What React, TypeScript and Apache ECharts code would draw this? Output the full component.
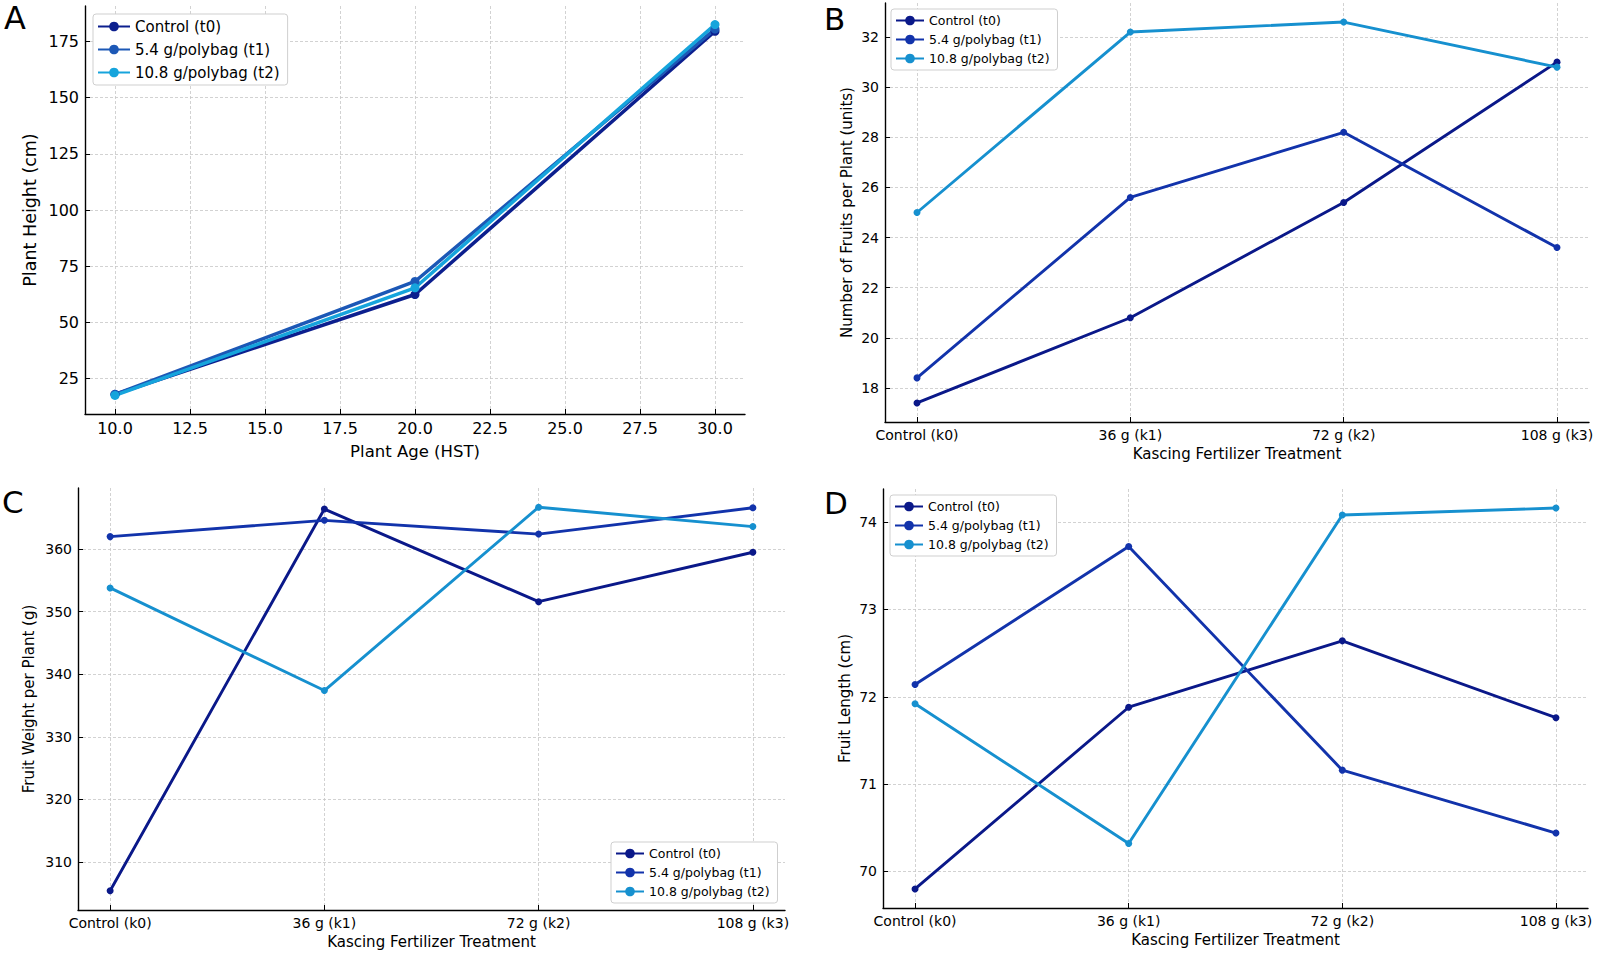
import { useEffect, useRef } from 'react'
import * as echarts from 'echarts'

// ---------- shared ----------
const SERIES_NAMES = ['Control (t0)', '5.4 g/polybag (t1)', '10.8 g/polybag (t2)']
const TREATMENTS = ['Control (k0)', '36 g (k1)', '72 g (k2)', '108 g (k3)']
const TREATMENT_POS = [0, 1, 2, 3]

// ---------- A · plant height ----------
const AGE = [10, 20, 30]
const HEIGHT_T0 = [18, 62.4, 179.5]
const HEIGHT_T1 = [18, 68.2, 180.5]
const HEIGHT_T2 = [17.5, 65.4, 182.5]
const AGE_TICKS = [10, 12.5, 15, 17.5, 20, 22.5, 25, 27.5, 30]
const HEIGHT_TICKS = [25, 50, 75, 100, 125, 150, 175]

// ---------- B · fruits per plant ----------
const FRUITS_T0 = [17.4, 20.8, 25.4, 31.0]
const FRUITS_T1 = [18.4, 25.6, 28.2, 23.6]
const FRUITS_T2 = [25.0, 32.2, 32.6, 30.8]
const FRUITS_TICKS = [18, 20, 22, 24, 26, 28, 30, 32]

// ---------- C · fruit weight ----------
const WEIGHT_T0 = [305.4, 366.4, 351.6, 359.5]
const WEIGHT_T1 = [362.0, 364.6, 362.4, 366.6]
const WEIGHT_T2 = [353.8, 337.4, 366.7, 363.6]
const WEIGHT_TICKS = [310, 320, 330, 340, 350, 360]

// ---------- D · fruit length ----------
const LENGTH_T0 = [69.8, 71.88, 72.64, 71.76]
const LENGTH_T1 = [72.14, 73.72, 71.16, 70.44]
const LENGTH_T2 = [71.92, 70.32, 74.08, 74.16]
const LENGTH_TICKS = [70, 71, 72, 73, 74]

const COLORS_A = ['#0c1f8e', '#1c58b6', '#16a4dc']
const COLORS = ['#0a1889', '#1233ab', '#1690cf']

const FONT = 'DejaVu Sans'
const GRID_LINE = { show: true, lineStyle: { color: '#c6c6c6', type: [3, 2], width: 0.8 } }
const AXIS_LINE = { show: true, onZero: false, lineStyle: { color: '#000', width: 1.4 } }

// matplotlib-style 5% margins
const pad = (vals: number[]): [number, number] => {
  const lo = Math.min(...vals)
  const hi = Math.max(...vals)
  const m = (hi - lo) * 0.05
  return [lo - m, hi + m]
}

function axis(
  gridIndex: number,
  ticks: number[],
  extent: [number, number],
  fontSize: number,
  nameSize: number,
  name: string,
  nameGap: number,
  formatter: (v: number) => string,
) {
  return {
    type: 'value' as const,
    gridIndex,
    min: extent[0],
    max: extent[1],
    name,
    nameLocation: 'middle' as const,
    nameGap,
    nameTextStyle: { fontFamily: FONT, fontSize: nameSize, color: '#000' },
    axisLine: AXIS_LINE,
    axisTick: { show: true, inside: true, length: 5, customValues: ticks, lineStyle: { color: '#000', width: 1 } },
    axisLabel: { customValues: ticks, fontFamily: FONT, fontSize, color: '#000', margin: 6, formatter },
    splitLine: GRID_LINE,
  }
}

function lines(gi: number, xs: number[], ys: number[][], colors: string[], width: number, size: number) {
  return ys.map((vals, i) => ({
    type: 'line' as const,
    name: SERIES_NAMES[i],
    xAxisIndex: gi,
    yAxisIndex: gi,
    symbol: 'circle',
    symbolSize: size,
    color: colors[i],
    lineStyle: { width, color: colors[i] },
    itemStyle: { color: colors[i] },
    data: xs.map((x, j) => [x, vals[j]]),
  }))
}

function legend(left: number, top: number, colors: string[], fontSize: number, itemWidth: number, itemGap: number) {
  return {
    orient: 'vertical' as const,
    left,
    top,
    itemWidth,
    itemHeight: 12,
    itemGap,
    padding: [5, 8, 5, 4],
    backgroundColor: '#fff',
    borderColor: '#cfcfcf',
    borderWidth: 1,
    borderRadius: 3,
    textStyle: { fontFamily: FONT, fontSize, color: '#000' },
    data: SERIES_NAMES.map((name, i) => ({
      name,
      itemStyle: { color: colors[i] },
      lineStyle: { color: colors[i] },
    })),
  }
}

const catFmt = (v: number) => TREATMENTS[v] ?? ''
const numFmt = (v: number) => String(v)

export default function App() {
  const ref = useRef<HTMLDivElement>(null)

  useEffect(() => {
    if (!ref.current) return
    const chart = echarts.init(ref.current, undefined, { renderer: 'svg' })
    const catExtent: [number, number] = [-0.15, 3.15]
    const X_NAME = 'Kascing Fertilizer Treatment'

    chart.setOption({
      animation: false,
      backgroundColor: '#fff',
      grid: [
        { left: 85, top: 6, width: 660, height: 408 },
        { left: 885, top: 3, width: 704, height: 419 },
        { left: 78, top: 488, width: 707, height: 422 },
        { left: 883, top: 489, width: 705, height: 419 },
      ],
      xAxis: [
        axis(0, AGE_TICKS, pad(AGE), 16, 16.5, 'Plant Age (HST)', 29, (v) => v.toFixed(1)),
        axis(1, TREATMENT_POS, catExtent, 14, 15, X_NAME, 24, catFmt),
        axis(2, TREATMENT_POS, catExtent, 14, 15, X_NAME, 24, catFmt),
        axis(3, TREATMENT_POS, catExtent, 14, 15, X_NAME, 24, catFmt),
      ],
      yAxis: [
        axis(0, HEIGHT_TICKS, pad([...HEIGHT_T0, ...HEIGHT_T1, ...HEIGHT_T2]), 16, 17.5, 'Plant Height (cm)', 46, numFmt),
        axis(1, FRUITS_TICKS, pad([...FRUITS_T0, ...FRUITS_T1, ...FRUITS_T2]), 14, 15, 'Number of Fruits per Plant (units)', 31, numFmt),
        axis(2, WEIGHT_TICKS, pad([...WEIGHT_T0, ...WEIGHT_T1, ...WEIGHT_T2]), 14, 15, 'Fruit Weight per Plant (g)', 42, numFmt),
        axis(3, LENGTH_TICKS, pad([...LENGTH_T0, ...LENGTH_T1, ...LENGTH_T2]), 14, 15, 'Fruit Length (cm)', 31, numFmt),
      ],
      legend: [
        legend(93, 14, COLORS_A, 15, 32, 8),
        legend(891, 9, COLORS, 12.5, 28, 6),
        legend(611, 842, COLORS, 12.5, 28, 6),
        legend(890, 495, COLORS, 12.5, 28, 6),
      ],
      series: [
        ...lines(0, AGE, [HEIGHT_T0, HEIGHT_T1, HEIGHT_T2], COLORS_A, 3.5, 9),
        ...lines(1, TREATMENT_POS, [FRUITS_T0, FRUITS_T1, FRUITS_T2], COLORS, 2.9, 7),
        ...lines(2, TREATMENT_POS, [WEIGHT_T0, WEIGHT_T1, WEIGHT_T2], COLORS, 2.9, 7),
        ...lines(3, TREATMENT_POS, [LENGTH_T0, LENGTH_T1, LENGTH_T2], COLORS, 2.9, 7),
      ],
      graphic: [
        { type: 'text', left: 4, top: 2, style: { text: 'A', fontFamily: FONT, fontSize: 32, fill: '#000' } },
        { type: 'text', left: 824, top: 3, style: { text: 'B', fontFamily: FONT, fontSize: 31, fill: '#000' } },
        { type: 'text', left: 2, top: 486, style: { text: 'C', fontFamily: FONT, fontSize: 31, fill: '#000' } },
        { type: 'text', left: 824, top: 487, style: { text: 'D', fontFamily: FONT, fontSize: 31, fill: '#000' } },
      ],
    })

    return () => chart.dispose()
  }, [])

  return (
    <div
      ref={ref}
      style={{ position: 'fixed', left: 0, top: 0, width: 1600, height: 953, background: '#fff' }}
    />
  )
}
